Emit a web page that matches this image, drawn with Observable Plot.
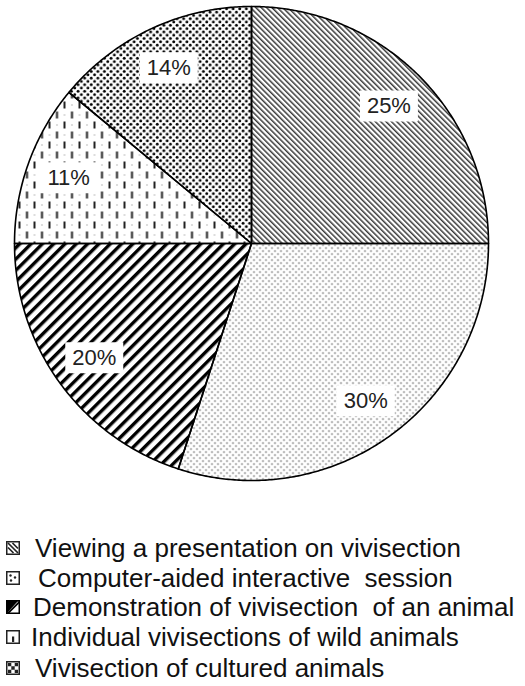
<!DOCTYPE html>
<html>
<head>
<meta charset="utf-8">
<script src="https://cdn.jsdelivr.net/npm/d3@7"></script>
<script src="https://cdn.jsdelivr.net/npm/@observablehq/plot@0.6"></script>
<style>
  html, body { margin: 0; padding: 0; background: #fff; }
  body { width: 525px; height: 686px; overflow: hidden; font-family: "Liberation Sans", Arial, sans-serif; }
  #legend { margin-top: 43px; }
  .item { position: relative; height: 30px; white-space: pre; color: #111; font-size: 26px; line-height: 30px; }
  .item svg { position: absolute; left: 6px; top: 8px; }
  .item span { position: absolute; top: 0; }
</style>
</head>
<body>
<svg width="0" height="0" style="position:absolute">
  <defs>
    <pattern id="p25" width="3.8" height="3.8" patternUnits="userSpaceOnUse" patternTransform="rotate(-45)">
      <rect x="0" y="0" width="1.5" height="3.8" fill="#3a3a3a"/>
    </pattern>
    <pattern id="p30" width="6" height="6" patternUnits="userSpaceOnUse">
      <circle cx="1.5" cy="1.5" r="0.85" fill="#555"/>
      <circle cx="4.5" cy="4.5" r="0.85" fill="#555"/>
    </pattern>
    <pattern id="p20" width="8" height="8" patternUnits="userSpaceOnUse" patternTransform="rotate(45)">
      <rect x="0" y="0" width="3.4" height="8" fill="#000"/>
    </pattern>
    <pattern id="p11" width="15" height="20" patternUnits="userSpaceOnUse">
      <rect x="3" y="1" width="2" height="7" fill="#222"/>
      <rect x="10.5" y="11" width="2" height="7" fill="#222"/>
      <circle cx="4" cy="14.5" r="0.6" fill="#666"/>
      <circle cx="11.5" cy="4.5" r="0.6" fill="#666"/>
    </pattern>
    <pattern id="p14" width="6.6" height="6.6" patternUnits="userSpaceOnUse">
      <circle cx="1.65" cy="1.65" r="1.45" fill="#000"/>
      <circle cx="4.95" cy="4.95" r="1.45" fill="#000"/>
    </pattern>
  </defs>
</svg>
<div id="chart"></div>
<div id="legend"></div>
<script>
// ---- data ----
const categories = [
  "Viewing a presentation on vivisection",
  "Computer-aided interactive  session",
  "Demonstration of vivisection  of an animal",
  "Individual vivisections of wild animals",
  "Vivisection of cultured animals"
];
const values = [25, 30, 20, 11, 14];
const labels = ["25%", "30%", "20%", "11%", "14%"];
const patterns = ["p25", "p30", "p20", "p11", "p14"];

// ---- pie geometry from d3.pie ----
const arcs = d3.pie().sort(null).startAngle(0).endAngle(2 * Math.PI)(values);
const outline = [];
arcs.forEach((a, i) => {
  const n = Math.max(4, Math.ceil((a.endAngle - a.startAngle) / (Math.PI / 360)));
  outline.push({cat: categories[i], fill: `url(#${patterns[i]})`, x: 0, y: 0});
  for (let k = 0; k <= n; k++) {
    const t = a.startAngle + (a.endAngle - a.startAngle) * k / n;
    outline.push({cat: categories[i], fill: `url(#${patterns[i]})`, x: Math.sin(t), y: Math.cos(t)});
  }
});
const labelPts = arcs.map((a, i) => {
  const m = (a.startAngle + a.endAngle) / 2;
  return {label: labels[i], x: 0.82 * Math.sin(m), y: 0.82 * Math.cos(m)};
});

const boxSymbol = {
  draw(context) {
    const w = 58, h = 31;
    context.moveTo(-w / 2, -h / 2);
    context.lineTo(w / 2, -h / 2);
    context.lineTo(w / 2, h / 2);
    context.lineTo(-w / 2, h / 2);
    context.closePath();
  }
};

const chart = Plot.plot({
  width: 525,
  height: 490,
  marginLeft: 14,
  marginRight: 37,
  marginTop: 6,
  marginBottom: 10,
  x: {domain: [-1, 1], axis: null},
  y: {domain: [-1, 1], axis: null},
  color: {type: "identity"},
  marks: [
    Plot.line(outline, {x: "x", y: "y", z: "cat", fill: "fill", stroke: "#000", strokeWidth: 1.6, curve: "linear-closed", strokeLinejoin: "round"}),
    Plot.dot(labelPts, {x: "x", y: "y", symbol: boxSymbol, r: 10, fill: "#fff", stroke: "none"}),
    Plot.text(labelPts, {x: "x", y: "y", text: "label", fontSize: 22, fill: "#222", fontFamily: "Liberation Sans, Arial, sans-serif"})
  ]
});
document.getElementById("chart").appendChild(chart);

// ---- legend ----
const icons = [
  `<rect x="0.75" y="0.75" width="12.5" height="12.5" fill="#fff" stroke="#222" stroke-width="1.5"/>
   <path d="M2,2 L12,12 M2,6.5 L7.5,12 M6.5,2 L12,7.5" stroke="#222" stroke-width="1.7"/>`,
  `<rect x="0.75" y="0.75" width="12.5" height="12.5" fill="#fff" stroke="#222" stroke-width="1.5"/>
   <circle cx="4.5" cy="4.5" r="1.2" fill="#222"/><circle cx="9" cy="6.5" r="1.2" fill="#222"/><circle cx="5" cy="9.5" r="1.2" fill="#222"/>`,
  `<rect x="0.75" y="0.75" width="12.5" height="12.5" fill="#fff" stroke="#000" stroke-width="1.5"/>
   <path d="M1,13 L13,1 L13,3.5 L3.5,13 Z M1,1 L1,13 L12,1 Z" fill="#000"/>`,
  `<rect x="0.75" y="0.75" width="12.5" height="12.5" fill="#fff" stroke="#222" stroke-width="1.5"/>
   <rect x="6" y="6.5" width="2.2" height="5.5" fill="#222"/>`,
  `<rect x="0.75" y="0.75" width="12.5" height="12.5" fill="#fff" stroke="#222" stroke-width="1.5"/>
   <path d="M2,2 h3.3 v3.3 h-3.3 Z M8.7,2 h3.3 v3.3 h-3.3 Z M2,8.7 h3.3 v3.3 h-3.3 Z M8.7,8.7 h3.3 v3.3 h-3.3 Z M5.3,5.3 h3.4 v3.4 h-3.4 Z" fill="#222"/>`
];
const textX = [35, 38, 33, 31, 35];
const itemH = [30, 29, 30, 31, 30];
const legend = document.getElementById("legend");
categories.forEach((c, i) => {
  const d = document.createElement("div");
  d.className = "item";
  d.style.height = itemH[i] + "px";
  d.innerHTML = `<svg width="14" height="14" viewBox="0 0 14 14">${icons[i]}</svg><span style="left:${textX[i]}px">${c}</span>`;
  legend.appendChild(d);
});
</script>
</body>
</html>
